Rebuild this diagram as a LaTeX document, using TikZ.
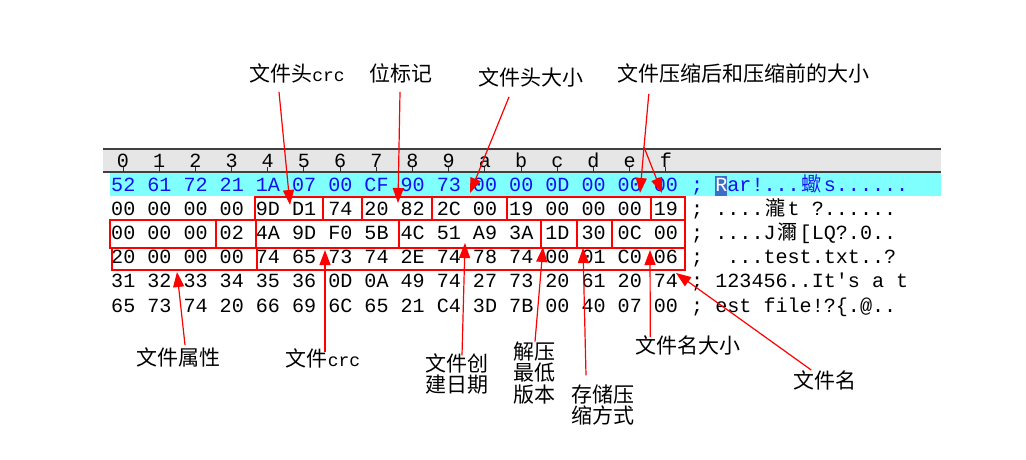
\documentclass[tikz,border=0pt]{standalone}
\usepackage{fontspec}
\setmonofont{Liberation Mono}
\newfontfamily\cjk{Noto Sans CJK SC}
\usetikzlibrary{arrows.meta}
\definecolor{rowcyan}{HTML}{80FFFF}
\definecolor{hexblue}{HTML}{1010F0}
\definecolor{rulergray}{HTML}{E6E6E6}
\definecolor{selblue}{HTML}{3A6EC8}
\newcommand{\crc}{{\ttfamily\fontsize{18}{18}\selectfont crc}}
\newcommand{\wide}[1]{\makebox[24.1pt]{\cjk #1}}
\newcommand{\selchar}[1]{{\setlength{\fboxsep}{0pt}\colorbox{selblue}{\rule[-5pt]{0pt}{20pt}\textcolor{white}{#1}}}}

\begin{document}
\begin{tikzpicture}[
    x=1pt, y=-1pt,
    % Styles
    hexrow/.style={anchor=base west, inner sep=0pt, font=\ttfamily\fontsize{20.1}{20.1}\selectfont},
    headdigit/.style={anchor=base, inner sep=0pt, font=\ttfamily\fontsize{20.1}{20.1}\selectfont},
    fieldlabel/.style={inner sep=0pt, align=left, font=\cjk\fontsize{21}{21.5}\selectfont},
    fieldbox/.style={draw=red, line width=1.3pt},
    rulertick/.style={line width=1pt, black!80},
    redline/.style={line width=1.2pt, red},
    redarrow/.style={-{Triangle[length=15pt, width=11pt]}, line width=1.2pt, red}
]

\useasboundingbox (0,0) rectangle (1026,460);

% ==================== RULER ====================
\fill[rulergray] (103,149) rectangle (941,172);
\fill[rowcyan] (110,172) rectangle (941,196);
\draw[line width=1.5pt, black!75] (103,149) -- (941,149);
\draw[line width=1.2pt, black!75] (103,172) -- (941,172);
\foreach \d [count=\i from 0] in {0,1,2,3,4,5,6,7,8,9,a,b,c,d,e,f} {
    \node[headdigit] (col\i) at ({123+36.19*\i},167) {\d};
    \draw[rulertick] (col\i.base) -- ++(0,5);
}

% ==================== HEX ROWS ====================
\node[hexrow, text=hexblue] (row0) at (111,191) {52 61 72 21 1A 07 00 CF 90 73 00 00 0D 00 00 00};
\node[hexrow] (row1) at (111,215.2) {00 00 00 00 9D D1 74 20 82 2C 00 19 00 00 00 19};
\node[hexrow] (row2) at (111,239.4) {00 00 00 02 4A 9D F0 5B 4C 51 A9 3A 1D 30 0C 00};
\node[hexrow] (row3) at (111,263.6) {20 00 00 00 74 65 73 74 2E 74 78 74 00 01 C0 06};
\node[hexrow] (row4) at (111,287.8) {31 32 33 34 35 36 0D 0A 49 74 27 73 20 61 20 74};
\node[hexrow] (row5) at (111,312) {65 73 74 20 66 69 6C 65 21 C4 3D 7B 00 40 07 00};

\node[hexrow, text=hexblue] (asc0) at (691,191) {; \selchar{R}ar!...\wide{蠍}s......};
\node[hexrow] (asc1) at (691,215.2) {; ....\wide{瀧}t ?......};
\node[hexrow] (asc2) at (691,239.4) {; ....J\wide{濔}[LQ?.0..};
\node[hexrow] (asc3) at (691,263.6) {;\ \ ...test.txt..?};
\node[hexrow] (asc4) at (691,287.8) {; 123456..It's a t};
\node[hexrow] (asc5) at (691,312) {; est file!?\{.@..};

% ==================== FIELD BOXES ====================
\draw[fieldbox] (255,197) rectangle (685,220);
\foreach \x in {323,362,432,507,651} \draw[fieldbox] (\x,197) -- (\x,220);
\draw[fieldbox] (110,220) rectangle (685,248);
\foreach \x in {216,256,399,541,577,612} \draw[fieldbox] (\x,220) -- (\x,248);
\draw[fieldbox] (112,248) rectangle (685,270);
\draw[fieldbox] (257,248) -- (257,270);

% ==================== LABELS ====================
\node[fieldlabel] (hdrcrc) at (297,73) {文件头\crc};
\node[fieldlabel] (bitflag) at (401,73) {位标记};
\node[fieldlabel] (hdrsize) at (531,77) {文件头大小};
\node[fieldlabel] (packsize) at (743,73) {文件压缩后和压缩前的大小};

\node[fieldlabel] (attr) at (178,357) {文件属性};
\node[fieldlabel] (filecrc) at (323,358) {文件\crc};
\node[fieldlabel] (ctime) at (457,374) {文件创\\建日期};
\node[fieldlabel] (unpver) at (534,373) {解压\\最低\\版本};
\node[fieldlabel] (method) at (603,405) {存储压\\缩方式};
\node[fieldlabel] (namesize) at (688,345) {文件名大小};
\node[fieldlabel] (fname) at (825,380) {文件名};

% Arrow tips on the fields
\coordinate (tHdrCrc) at (290,205);
\coordinate (tBitFlag) at (398,203);
\coordinate (tHdrSize) at (470,193);
\coordinate (tPackFork) at (644,147);
\coordinate (tPackA) at (640,193);
\coordinate (tPackB) at (662,193);
\coordinate (tAttr) at (177,272);
\coordinate (tFileCrc) at (325,250);
\coordinate (tCTime) at (465,243);
\coordinate (tUnpVer) at (543,247);
\coordinate (tMethod) at (583,248);
\coordinate (tNameSize) at (650,250);
\coordinate (tFName) at (676,273);

% ==================== ARROWS ====================
\draw[redarrow] ([xshift=-18pt, yshift=-9pt]hdrcrc.south) -- (tHdrCrc);
\draw[redarrow] ([xshift=-1pt, yshift=-9pt]bitflag.south) -- (tBitFlag);
\draw[redarrow] ([xshift=-22pt, yshift=-10pt]hdrsize.south) -- (tHdrSize);
\draw[redline] ([xshift=32pt, yshift=-11pt]packsize.south west) -- (tPackFork);
\draw[redarrow] (tPackFork) -- (tPackA);
\draw[redarrow] (tPackFork) -- (tPackB);

\draw[redarrow] ([xshift=7pt, yshift=2pt]attr.north) -- (tAttr);
\draw[redarrow] ([xshift=2pt, yshift=-4pt]filecrc.north) -- (tFileCrc);
\draw[redarrow] ([xshift=5pt, yshift=-2pt]ctime.north) -- (tCTime);
\draw[redarrow] ([xshift=1pt]unpver.north) -- (tUnpVer);
\draw[redarrow] ([xshift=-17pt, yshift=9pt]method.north) -- (tMethod);
\draw[redarrow] ([xshift=15pt, yshift=-2pt]namesize.north west) -- (tNameSize);
\draw[redarrow] ([xshift=18pt]fname.north west) -- (tFName);

\end{tikzpicture}
\end{document}
